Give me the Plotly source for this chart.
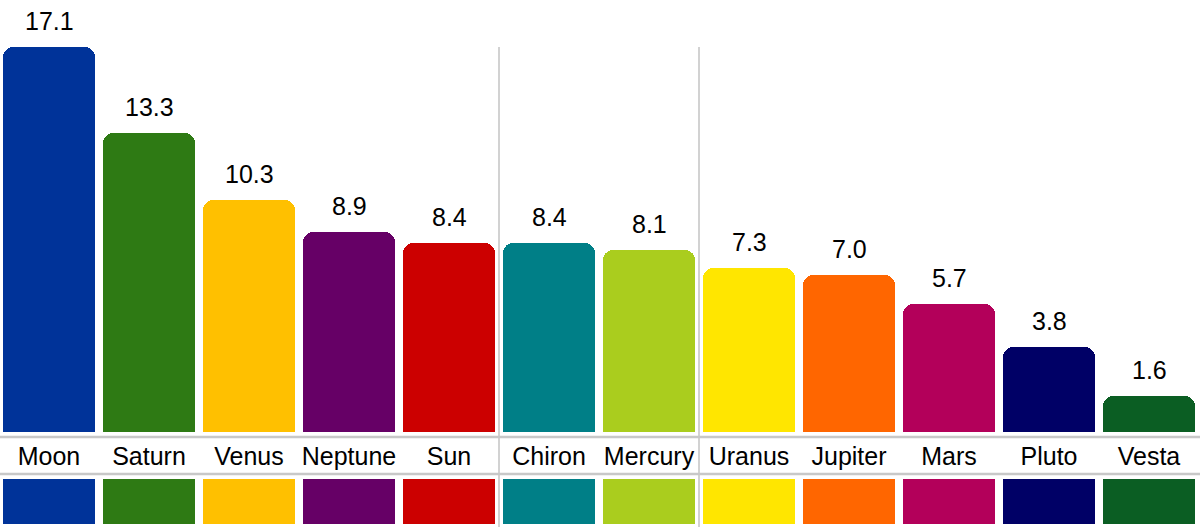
import plotly.graph_objects as go

# bar data
bodies = ['Moon', 'Saturn', 'Venus', 'Neptune', 'Sun', 'Chiron', 'Mercury',
          'Uranus', 'Jupiter', 'Mars', 'Pluto', 'Vesta']
values = [17.1, 13.3, 10.3, 8.9, 8.4, 8.4, 8.1, 7.3, 7.0, 5.7, 3.8, 1.6]
colors = ['#003399', '#2e7a14', '#ffc000', '#660066', '#cc0000', '#007f87',
          '#aacd1e', '#ffe600', '#ff6600', '#b3005a', '#000066', '#0b5e23']
swatch = [1] * len(bodies)
group_breaks = [4.5, 6.5]

H = 527.0
font = dict(family='Liberation Sans, Arial, sans-serif', size=25, color='#000000')

fig = go.Figure()

# main bars with rounded tops
fig.add_trace(go.Bar(
    x=bodies, y=values,
    marker=dict(color=colors, cornerradius=10, line=dict(width=0)),
    width=0.92,
    hoverinfo='x+y',
    xaxis='x', yaxis='y',
))

# colour strip under the labels
fig.add_trace(go.Bar(
    x=bodies, y=swatch,
    marker=dict(color=colors, line=dict(width=0)),
    width=0.92,
    hoverinfo='skip',
    xaxis='x2', yaxis='y2',
))

# value labels above each bar
for b, v in zip(bodies, values):
    fig.add_annotation(x=b, y=v, xref='x', yref='y', text=f'{v:.1f}',
                       showarrow=False, yanchor='bottom', yshift=10, font=font)

shapes = []
# separators between groups
for xb in group_breaks:
    shapes.append(dict(type='line', xref='x', yref='paper', x0=xb, x1=xb,
                       y0=0, y1=(H - 47) / H, line=dict(color='#c3c3c3', width=1.5)))
# lines framing the labels
for py in [437, 474]:
    shapes.append(dict(type='line', xref='paper', yref='paper', x0=0, x1=1,
                       y0=(H - py) / H, y1=(H - py) / H,
                       line=dict(color='#c8c8c8', width=2.5)))

fig.update_layout(
    width=1200, height=527,
    margin=dict(l=0, r=0, t=0, b=0),
    paper_bgcolor='white', plot_bgcolor='white',
    showlegend=False,
    bargap=0,
    shapes=shapes,
    xaxis=dict(domain=[0, 1], range=[-0.49, 11.51], showgrid=False, zeroline=False,
               showline=False, ticks='', tickfont=font, ticklabelstandoff=7,
               anchor='y'),
    yaxis=dict(domain=[(H - 432) / H, 1], range=[0, 19.2], visible=False),
    xaxis2=dict(domain=[0, 1], visible=False, anchor='y2', matches='x'),
    yaxis2=dict(domain=[(H - 524) / H, (H - 479) / H], range=[0, 1], visible=False),
)

# drop the page's default body margin so the chart fills the window
fig.write_html("out.html", config={'displayModeBar': False},
               post_script="document.body.style.margin='0';document.body.style.overflow='hidden';")
